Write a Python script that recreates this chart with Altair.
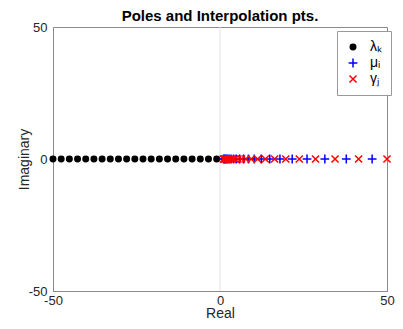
import altair as alt
import pandas as pd

# Poles (black dots) on the negative real axis
lambda_k = [-50.0, -47.55, -45.1, -42.65, -40.2, -37.75, -35.3, -32.85, -30.4, -27.95,
            -25.5, -23.05, -20.6, -18.15, -15.7, -13.25, -10.8, -8.35, -5.9, -3.45, -1.0]
# Interpolation points (blue +)
mu_i = [1.098, 1.323, 1.594, 1.920, 2.313, 2.787, 3.358, 4.045, 4.873, 5.871, 7.071,
        8.519, 10.26, 12.37, 14.90, 17.95, 21.62, 26.05, 31.39, 37.81, 45.55]
# Interpolation points (red x)
gamma_j = [1.0, 1.205, 1.452, 1.749, 2.107, 2.539, 3.059, 3.685, 4.440, 5.349, 6.444,
           7.762, 9.351, 11.27, 13.57, 16.35, 19.70, 23.74, 28.60, 34.45, 41.50, 50.0]

names = ["λₖ", "μᵢ", "γⱼ"]
colors = ["black", "#0000ff", "#ff0000"]
fills = ["black", "transparent", "transparent"]
plus_path = "M-1.6,0L1.6,0M0,-1.6L0,1.6"
x_path = "M-1.3,-1.3L1.3,1.3M-1.3,1.3L1.3,-1.3"
shapes = ["circle", plus_path, x_path]
ticks = [-50, 0, 50]
zero_line = [0]

rows = []
for n, vals in zip(names, [lambda_k, mu_i, gamma_j]):
    for v in vals:
        rows.append({"re": v, "im": 0.0, "s": n})
df = pd.DataFrame(rows)

FONT = "Liberation Sans"

leg = alt.Legend(title=None, orient="none", legendX=284, legendY=4,
                 strokeColor="#999", fillColor="white", padding=9,
                 rowPadding=1, labelFont=FONT, labelFontSize=14,
                 labelColor="black", symbolStrokeWidth=1.5, symbolSize=30,
                 labelOffset=10)

sc = dict(domain=[-50, 50], nice=False, zero=False)

rule = alt.Chart(pd.DataFrame({"z": zero_line})).mark_rule(
    color="#e3e3e3", strokeWidth=1
).encode(x=alt.X("z:Q", scale=alt.Scale(**sc)))

pts = alt.Chart(df).mark_point(filled=False, strokeWidth=1.5, opacity=1, size=30).encode(
    x=alt.X("re:Q", scale=alt.Scale(**sc),
            axis=alt.Axis(values=ticks, title="Real", labelFlush=False, ticks=False,
                          grid=False, labelPadding=3, titlePadding=-1,
                          labelExpr="'' + datum.value")),
    y=alt.Y("im:Q", scale=alt.Scale(**sc),
            axis=alt.Axis(values=ticks, title="Imaginary", labelFlush=False, ticks=False,
                          grid=False, labelPadding=6, titlePadding=-3,
                          labelExpr="'' + datum.value")),
    color=alt.Color("s:N", scale=alt.Scale(domain=names, range=colors), legend=leg),
    fill=alt.Fill("s:N", scale=alt.Scale(domain=names, range=fills), legend=leg),
    shape=alt.Shape("s:N", scale=alt.Scale(domain=names, range=shapes), legend=leg),
)

chart = alt.layer(rule, pts).properties(
    width=334, height=264,
    autosize=alt.AutoSizeParams(type="none"),
    padding={"left": 45, "top": 19, "right": 8, "bottom": 29},
    title=alt.TitleParams("Poles and Interpolation pts.", font=FONT, fontSize=15,
                          fontWeight="bold", color="black", anchor="middle", offset=-3),
).configure_view(stroke="#8a8a8a", strokeWidth=1).configure_axis(
    domainColor="#8a8a8a", labelFont=FONT, labelFontSize=13, labelColor="#262626",
    titleFont=FONT, titleFontSize=14, titleFontWeight="normal", titleColor="#262626",
)

chart.save("out.html", embed_options={"renderer": "svg", "actions": False})
